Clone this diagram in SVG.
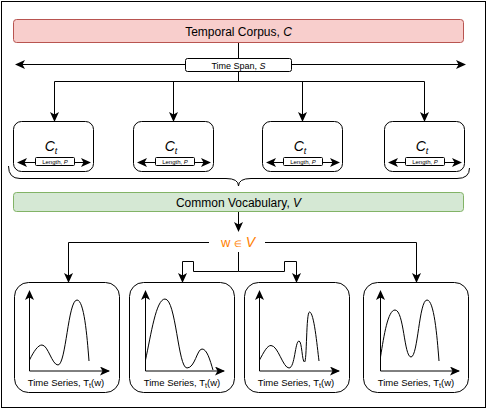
<svg xmlns="http://www.w3.org/2000/svg" width="487" height="410" viewBox="0 0 487 410">
<defs>
<marker id="ah" markerWidth="10" markerHeight="9" refX="9" refY="4.5" orient="auto" markerUnits="userSpaceOnUse">
<path d="M0,0 L10,4.5 L0,9 L2.5,4.5 Z" fill="#000"/>
</marker>
<style>
text{font-family:"Liberation Sans",Arial,sans-serif;fill:#000}
.ln{fill:none;stroke:#000;stroke-width:1}
.ar{fill:none;stroke:#000;stroke-width:1;marker-end:url(#ah)}
.box{fill:#fff;stroke:#000;stroke-width:1}
.ct{font-size:14px;font-style:italic;text-anchor:middle}
.sub{font-size:9px;font-style:italic}
.len{font-size:6px;text-anchor:middle}
.ts{font-size:9.5px;text-anchor:middle}
.cv{fill:none;stroke:#000;stroke-width:1}
</style>
</defs>
<rect x="1.5" y="1.5" width="484" height="406" fill="#fff" stroke="#000" stroke-width="1"/>

<g id="connectors">
<path class="ln" d="M238.5,42 V81.5"/>
<path class="ar" d="M185,64.5 H16"/>
<path class="ar" d="M292,64.5 H465"/>
<path class="ln" d="M54.5,81.5 H424.5"/>
<path class="ar" d="M54.5,81.5 V121"/>
<path class="ar" d="M173.5,81.5 V121"/>
<path class="ar" d="M302.5,81.5 V121"/>
<path class="ar" d="M424.5,81.5 V121"/>
<path class="ln" d="M8.5,166 Q8.5,178.5 20,178.5 H226 Q238.5,178.5 238.5,186 Q238.5,178.5 251,178.5 H457 Q469.5,178.5 469.5,168"/>
<path class="ar" d="M238.5,211 V231"/>
<path class="ar" d="M209,242.5 H68.5 V282"/>
<path class="ar" d="M265,242.5 H416.5 V282"/>
<path class="ln" d="M238.5,252 V271.5 H193.5"/>
<path class="ln" d="M238.5,271.5 H284.5"/>
<path class="ar" d="M193.5,271.5 V261.5 H182.5 V282"/>
<path class="ar" d="M284.5,271.5 V261.5 H296.5 V282"/>
</g>

<g id="temporal-corpus">
<rect x="13.5" y="19.5" width="450" height="23" rx="3" fill="#f8cecc" stroke="#b85450"/>
<text x="238.5" y="35.5" font-size="12" text-anchor="middle">Temporal Corpus, <tspan font-style="italic">C</tspan></text>
</g>

<g id="time-span">
<rect x="185.5" y="58.5" width="106" height="13" rx="2" class="box"/>
<text x="238.5" y="68.5" font-size="9" text-anchor="middle">Time Span, <tspan font-style="italic">S</tspan></text>
</g>

<g id="ct1">
<rect x="13.5" y="121.5" width="80" height="50" rx="8" class="box"/>
<text x="51" y="151" class="ct">C<tspan class="sub" dy="3">t</tspan></text>
<path class="ar" d="M35,162.5 H18"/><path class="ar" d="M75,162.5 H90"/>
<rect x="35.5" y="157.5" width="39" height="8" rx="1" class="box"/>
<text x="55" y="163.5" class="len">Length, <tspan font-style="italic">P</tspan></text>
</g>
<g id="ct2">
<rect x="133.5" y="121.5" width="80" height="50" rx="8" class="box"/>
<text x="171" y="151" class="ct">C<tspan class="sub" dy="3">t</tspan></text>
<path class="ar" d="M155,162.5 H138"/><path class="ar" d="M195,162.5 H210"/>
<rect x="155.5" y="157.5" width="39" height="8" rx="1" class="box"/>
<text x="175" y="163.5" class="len">Length, <tspan font-style="italic">P</tspan></text>
</g>
<g id="ct3">
<rect x="262.5" y="121.5" width="80" height="50" rx="8" class="box"/>
<text x="300" y="151" class="ct">C<tspan class="sub" dy="3">t</tspan></text>
<path class="ar" d="M283,162.5 H267"/><path class="ar" d="M323,162.5 H339"/>
<rect x="283.5" y="157.5" width="39" height="8" rx="1" class="box"/>
<text x="303" y="163.5" class="len">Length, <tspan font-style="italic">P</tspan></text>
</g>
<g id="ct4">
<rect x="384.5" y="121.5" width="80" height="50" rx="8" class="box"/>
<text x="422" y="151" class="ct">C<tspan class="sub" dy="3">t</tspan></text>
<path class="ar" d="M405,162.5 H389"/><path class="ar" d="M445,162.5 H461"/>
<rect x="405.5" y="157.5" width="39" height="8" rx="1" class="box"/>
<text x="425" y="163.5" class="len">Length, <tspan font-style="italic">P</tspan></text>
</g>

<g id="common-vocabulary">
<rect x="13.5" y="192.5" width="450" height="19" rx="3" fill="#d5e8d4" stroke="#82b366"/>
<text x="238.5" y="206.5" font-size="12" text-anchor="middle">Common Vocabulary, <tspan font-style="italic">V</tspan></text>
</g>

<g id="word">
<text x="238" y="246.5" font-size="13" text-anchor="middle" style="fill:#ff8000">w <tspan font-size="9">∈</tspan> <tspan font-style="italic" font-size="14">V</tspan></text>
</g>

<g id="ts1">
<rect x="14.5" y="282.5" width="105" height="110" rx="14" class="box"/>
<path class="ar" d="M29.5,371 V291"/><path class="ar" d="M29.5,371 H109"/>
<path class="cv" d="M29.5,360 C34,351 38,345 42,345 C48,345 52,365 58,365 C66,365 68,300 77,300 C84,300 87,335 89,361"/>
<text x="66" y="386" class="ts">Time Series, T<tspan font-size="7" dy="2">t</tspan><tspan dy="-2">(w)</tspan></text>
</g>
<g id="ts2">
<rect x="129.5" y="282.5" width="105" height="110" rx="14" class="box"/>
<path class="ar" d="M145.5,371 V291"/><path class="ar" d="M145.5,371 H224"/>
<path class="cv" d="M145.5,360 C151,335 156,299 165,299 C176,299 178,368 187,368 C195,368 197,349 202,349 C207,349 210,360 213,370"/>
<text x="182" y="386" class="ts">Time Series, T<tspan font-size="7" dy="2">t</tspan><tspan dy="-2">(w)</tspan></text>
</g>
<g id="ts3">
<rect x="244.5" y="282.5" width="105" height="110" rx="14" class="box"/>
<path class="ar" d="M259.5,371 V291"/><path class="ar" d="M259.5,371 H339"/>
<path class="cv" d="M259.5,360 C264,352 267,345.5 271,345.5 C278,345.5 283,368 289,368 C295,368 295,341 299,341 C302,341 302,362 304.5,362 C307,362 306,312 309.5,312 C314,312 317,345 319,361"/>
<text x="296" y="386" class="ts">Time Series, T<tspan font-size="7" dy="2">t</tspan><tspan dy="-2">(w)</tspan></text>
</g>
<g id="ts4">
<rect x="363.5" y="282.5" width="105" height="110" rx="14" class="box"/>
<path class="ar" d="M380.5,371 V291"/><path class="ar" d="M380.5,371 H459"/>
<path class="cv" d="M380.5,357 C384,335 388,310 395,310 C404,310 404,357 411,357 C418,357 419,300 427,300 C434,300 437,335 439,361"/>
<text x="416" y="386" class="ts">Time Series, T<tspan font-size="7" dy="2">t</tspan><tspan dy="-2">(w)</tspan></text>
</g>
</svg>
